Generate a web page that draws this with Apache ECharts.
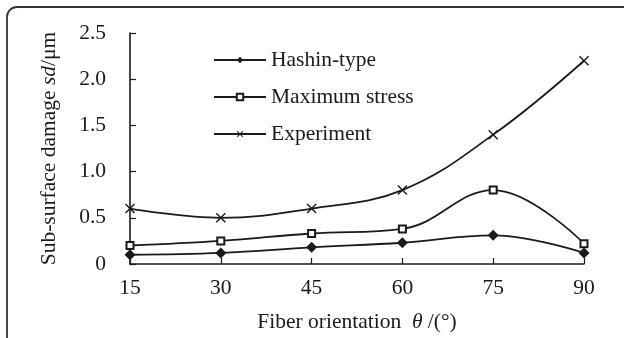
<!DOCTYPE html>
<html>
<head>
<meta charset="utf-8">
<script src="https://cdn.jsdelivr.net/npm/echarts@6/dist/echarts.min.js"></script>
<style>
  html, body { margin: 0; padding: 0; background: #fff; }
  #chart { width: 624px; height: 338px; }
</style>
</head>
<body>
<div id="chart"></div>
<script>
// Fiber orientation angles (degrees)
const angles = [15, 30, 45, 60, 75, 90];
// Sub-surface damage depth (μm) per model / measurement
const hashinType = [0.10, 0.12, 0.18, 0.23, 0.31, 0.12];
const maximumStress = [0.20, 0.25, 0.33, 0.38, 0.80, 0.22];
const experiment = [0.60, 0.50, 0.60, 0.80, 1.40, 2.20];
const seriesNames = ['Hashin-type', 'Maximum stress', 'Experiment'];

const FONT = '"Liberation Serif", "Times New Roman", serif';
const FS = 21.5;
const INK = '#1a1a1a';
const crossPath = 'path://M0,1L1,0L5,4L9,0L10,1L6,5L10,9L9,10L5,6L1,10L0,9L4,5Z';

const pairs = arr => angles.map((a, i) => [a, arr[i]]);

const chart = echarts.init(document.getElementById('chart'), null, { renderer: 'canvas' });

function lineSeries(name, data, symbol, size, itemStyle) {
  return {
    name: name,
    type: 'line',
    data: pairs(data),
    smooth: 0.4,
    symbol: symbol,
    symbolSize: size,
    showAllSymbol: true,
    lineStyle: { color: INK, width: 1.8 },
    itemStyle: itemStyle,
    emphasis: { disabled: true },
    z: 3
  };
}

const richTitle = {
  t: { fontFamily: FONT, fontSize: FS, color: INK },
  i: { fontFamily: FONT, fontSize: FS, fontStyle: 'italic', color: INK }
};

chart.setOption({
  backgroundColor: '#fff',
  animation: false,
  textStyle: { fontFamily: FONT, color: INK },
  graphic: [{
    type: 'rect',
    shape: { x: 7, y: 7, width: 630, height: 420, r: 10 },
    style: { fill: 'none', stroke: '#333', lineWidth: 1.8 },
    silent: true,
    z: -1
  }],
  grid: { left: 130, right: 40, top: 33, bottom: 70 },
  legend: {
    data: seriesNames,
    orient: 'vertical',
    left: 208,
    top: 44,
    itemWidth: 52,
    itemHeight: 8,
    itemGap: 15,
    textStyle: { fontFamily: FONT, fontSize: FS, color: INK },
    selectedMode: false
  },
  xAxis: {
    type: 'value',
    min: 15,
    max: 90,
    interval: 15,
    name: '{t|Fiber orientation  }{i|θ}{t| /(°)}',
    nameLocation: 'middle',
    nameGap: 47,
    nameTextStyle: { rich: richTitle },
    axisLine: { lineStyle: { color: INK, width: 1.6 } },
    axisTick: { inside: true, length: 6, lineStyle: { color: INK, width: 1.2 } },
    axisLabel: { fontFamily: FONT, fontSize: FS, color: INK, margin: 13 },
    splitLine: { show: false }
  },
  yAxis: {
    type: 'value',
    min: 0,
    max: 2.5,
    interval: 0.5,
    name: '{t|Sub-surface damage }{i|sd}{t|/μm}',
    nameLocation: 'middle',
    nameGap: 70,
    nameTextStyle: { rich: richTitle },
    axisLine: { show: true, lineStyle: { color: INK, width: 1.6 } },
    axisTick: { show: true, inside: true, length: 6, lineStyle: { color: INK, width: 1.2 } },
    axisLabel: {
      fontFamily: FONT, fontSize: FS, color: INK, margin: 24, align: 'right',
      formatter: v => (v === 0 ? '0' : v.toFixed(1))
    },
    splitLine: { show: false }
  },
  series: [
    lineSeries(seriesNames[0], hashinType, 'diamond', 11, { color: INK }),
    lineSeries(seriesNames[1], maximumStress, 'emptyRect', 7, { color: INK, borderColor: INK, borderWidth: 1.5 }),
    lineSeries(seriesNames[2], experiment, crossPath, 10, { color: INK })
  ]
});
</script>
</body>
</html>
